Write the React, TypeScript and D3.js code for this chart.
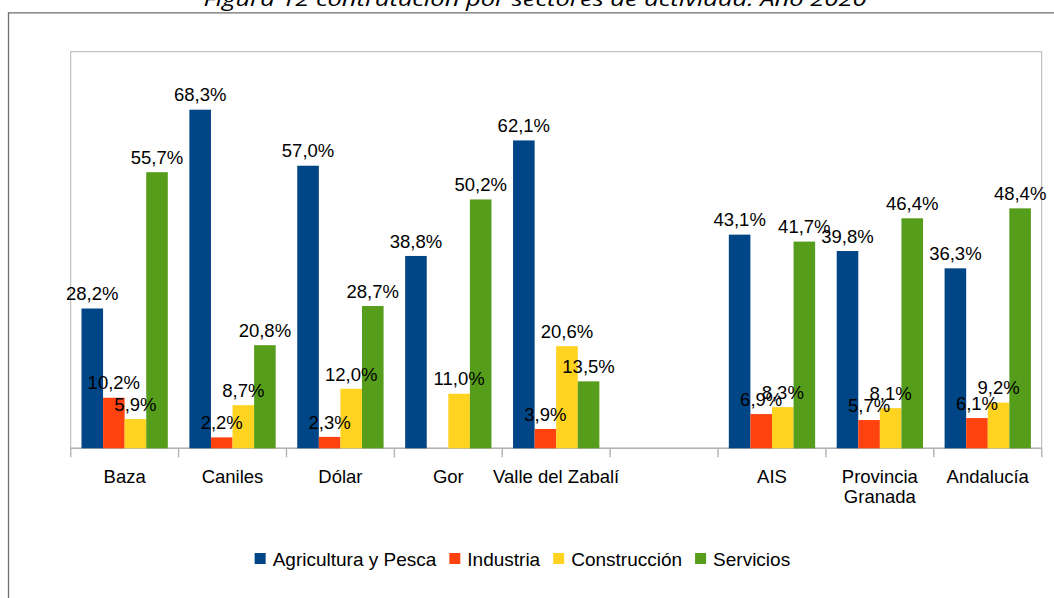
import React from "react";
import * as d3 from "d3";

const categories: string[] = ["Baza", "Caniles", "Dólar", "Gor", "Valle del Zabalí", "", "AIS", "Provincia Granada", "Andalucía"];
const seriesNames: string[] = ["Agricultura y Pesca", "Industria", "Construcción", "Servicios"];
const agricultura: (number | null)[] = [28.2, 68.3, 57.0, 38.8, 62.1, null, 43.1, 39.8, 36.3];
const industria: (number | null)[] = [10.2, 2.2, 2.3, 0, 3.9, null, 6.9, 5.7, 6.1];
const construccion: (number | null)[] = [5.9, 8.7, 12.0, 11.0, 20.6, null, 8.3, 8.1, 9.2];
const servicios: (number | null)[] = [55.7, 20.8, 28.7, 50.2, 13.5, null, 41.7, 46.4, 48.4];
const colors: string[] = ["#004586", "#ff420e", "#ffd320", "#579d1c"];
const yMax = 80;
const title = "Figura 12 contratación por sectores de actividad. Año 2020";

const W = 1054;
const H = 598;
const FONT = "'Liberation Sans', Arial, sans-serif";
const FS = 18.5;
const LFS = 19.0;

function measure(text: string, size: number): number {
  const c = document.createElement("canvas").getContext("2d");
  if (!c) return text.length * size * 0.55;
  c.font = `${size}px 'Liberation Sans'`;
  return c.measureText(text).width;
}

export default function App() {
  const plot = { left: 70.7, right: 1041.7, top: 51.7, bottom: 448.3 };
  const x0 = d3.scaleBand<string>().domain(categories.map((c, i) => String(i))).range([plot.left, plot.right]).paddingInner(0).paddingOuter(0);
  const bw = x0.bandwidth();
  const x1 = d3.scaleBand<string>().domain(seriesNames).range([bw * 0.1, bw * 0.9]).padding(0);
  const y = d3.scaleLinear().domain([0, yMax]).range([plot.bottom, plot.top]);
  const data = [agricultura, industria, construccion, servicios];
  const fmt = (v: number) => v.toFixed(1).replace(".", ",") + "%";

  // legend layout
  const sq = 11, gapText = 7, gapItem = 13;
  const widths = seriesNames.map((s) => measure(s, LFS));
  const total = widths.reduce((a, w) => a + sq + gapText + w, 0) + gapItem * (seriesNames.length - 1);
  let lx = 522.4 - total / 2;
  const legendItems = seriesNames.map((s, i) => {
    const item = { s, i, x: lx };
    lx += sq + gapText + widths[i] + gapItem;
    return item;
  });

  const ticks = d3.range(categories.length + 1).map((i) => plot.left + i * bw);

  return (
    <svg width={W} height={H} style={{ position: "absolute", left: 0, top: 0, background: "#fff" }} fontFamily={FONT}>
      <rect x={0} y={0} width={W} height={H} fill="#fff" />
      <text x={535} y={6} textAnchor="middle" fontStyle="italic" fontSize={20} fontFamily="'Open Sans', 'DejaVu Sans', sans-serif" textLength={663} lengthAdjust="spacingAndGlyphs" fill="#000">{title}</text>
      <path d={`M8.5,${H + 2} V12.8 H${W + 2}`} fill="none" stroke="#6e6e6e" strokeWidth={1.3} />
      <rect x={plot.left} y={plot.top} width={plot.right - plot.left} height={plot.bottom - plot.top} fill="none" stroke="#b3b3b3" strokeWidth={1} />
      <line x1={plot.left} x2={plot.right} y1={plot.bottom} y2={plot.bottom} stroke="#b3b3b3" strokeWidth={1.6} />
      {ticks.map((t, i) => (
        <line key={i} x1={t} x2={t} y1={plot.bottom} y2={plot.bottom + 9} stroke="#b3b3b3" strokeWidth={1.4} />
      ))}
      {categories.map((c, ci) =>
        data.map((arr, si) => {
          const v = arr[ci];
          if (v == null || v === 0) return null;
          const bx = (x0(String(ci)) as number) + (x1(seriesNames[si]) as number);
          const by = y(v);
          return (
            <rect key={`${ci}-${si}`} x={bx} y={by} width={x1.bandwidth()} height={plot.bottom - by} fill={colors[si]} />
          );
        })
      )}
      {categories.map((c, ci) =>
        data.map((arr, si) => {
          const v = arr[ci];
          if (v == null || v === 0) return null;
          const cx = (x0(String(ci)) as number) + (x1(seriesNames[si]) as number) + x1.bandwidth() / 2;
          return (
            <text key={`l${ci}-${si}`} x={cx} y={y(v) - 8.3} textAnchor="middle" fontSize={FS} fill="#000">{fmt(v)}</text>
          );
        })
      )}
      {categories.map((c, ci) => {
        const cx = (x0(String(ci)) as number) + bw / 2;
        const lines = c === "Provincia Granada" ? ["Provincia", "Granada"] : [c];
        return (
          <text key={`c${ci}`} x={cx} textAnchor="middle" fontSize={FS} fill="#000">
            {lines.map((ln, li) => (
              <tspan key={li} x={cx} y={482.7 + li * 20.6}>{ln}</tspan>
            ))}
          </text>
        );
      })}
      {legendItems.map((it) => (
        <g key={it.s}>
          <rect x={it.x} y={553} width={sq} height={sq} fill={colors[it.i]} />
          <text x={it.x + sq + gapText} y={566} fontSize={LFS} fill="#000">{it.s}</text>
        </g>
      ))}
    </svg>
  );
}
